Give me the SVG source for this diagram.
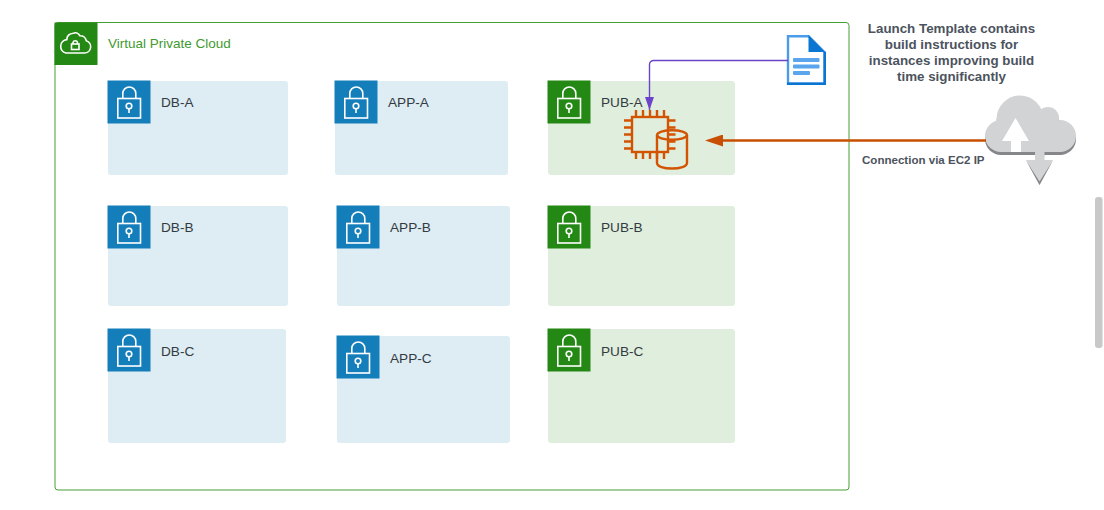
<svg xmlns="http://www.w3.org/2000/svg" xmlns:xlink="http://www.w3.org/1999/xlink" width="1104" height="510" viewBox="0 0 1104 510">
<style>
text{font-family:"Liberation Sans",Arial,sans-serif}
.lbl{font-size:13.600px;fill:#333b42}
.note{font-size:13.350px;font-weight:bold;fill:#4c535d;text-anchor:middle}
.priv{fill:#deecf4}
.pub{fill:#e0eedd}
.privb{fill:#147ebb}
.pubb{fill:#248814}
.lk{fill:none;stroke:#fff;stroke-width:1.6}
.chip{fill:none;stroke:#d35400;stroke-width:2.400}
.cl{fill:#d1d3d4}
.cs{fill:#85878a}
</style>
<defs>
<g id="lock">
<rect x="9.800" y="17.500" width="22.700" height="19.500" class="lk"/>
<path d="M14.800 17.500V12.500a6.500 6.500 0 0 1 13 0V17.500" class="lk"/>
<circle cx="21" cy="25" r="2.800" class="lk"/>
<path d="M21 27.800V32" class="lk"/>
</g>
<g id="cloud">
<circle cx="1020" cy="119" r="23.500"/>
<circle cx="1048" cy="118" r="11"/>
<circle cx="1060" cy="136" r="16"/>
<circle cx="1001" cy="136" r="16"/>
<rect x="1001" y="122" width="60" height="30"/>
</g>
<marker id="ap" markerUnits="userSpaceOnUse" markerWidth="13" markerHeight="10" refX="13" refY="5" orient="auto"><path d="M0 .5L13 5L0 9.500z" fill="#6b45c9"/></marker>
<marker id="ao" markerUnits="userSpaceOnUse" markerWidth="18" markerHeight="12" refX="0" refY="6" orient="auto"><path d="M0 0L18 6L0 12z" fill="#c94f00"/></marker>
</defs>
<g id="vpc">
<rect x="55" y="22.500" width="794" height="467.500" rx="3" fill="#fff" stroke="#46a035" stroke-width="1"/>
<rect x="54.500" y="22.500" width="43" height="42.500" fill="#248814"/>
<path d="M67 53h17.500a6.300 6.300 0 0 0 1.800-12.300a6.500 6.500 0 0 0-6.500-5c-1-2.200-3.500-3.700-6.500-2.400c-4 .4-6.300 2.400-6.500 6.300a6.800 6.800 0 0 0-.8 13.400z" class="lk"/>
<rect x="71.500" y="44" width="7.500" height="5.500" class="lk"/>
<path d="M73 44v-1.500a2.300 2.300 0 0 1 4.500 0V44" class="lk"/>
<text x="108" y="48" style="font-size:13.500px;fill:#3f9a2f">Virtual Private Cloud</text>
</g>
<g id="db-a"><rect class="priv" x="108" y="81" width="180" height="94" rx="3"/><rect class="privb" x="107.500" y="80.500" width="43" height="43"/><use xlink:href="#lock" href="#lock" x="108" y="81"/><text class="lbl" x="161" y="107">DB-A</text></g>
<g id="app-a"><rect class="priv" x="335" y="81" width="173" height="94" rx="3"/><rect class="privb" x="334.500" y="80.500" width="43" height="43"/><use xlink:href="#lock" href="#lock" x="335" y="81"/><text class="lbl" x="388" y="107">APP-A</text></g>
<g id="pub-a"><rect class="pub" x="548" y="81" width="187" height="94" rx="3"/><rect class="pubb" x="547.500" y="80.500" width="43" height="43"/><use xlink:href="#lock" href="#lock" x="548" y="81"/><text class="lbl" x="601" y="107">PUB-A</text></g>
<g id="db-b"><rect class="priv" x="108" y="206" width="180" height="100" rx="3"/><rect class="privb" x="107.500" y="205.500" width="43" height="43"/><use xlink:href="#lock" href="#lock" x="108" y="206"/><text class="lbl" x="161" y="232">DB-B</text></g>
<g id="app-b"><rect class="priv" x="337" y="206" width="173" height="100" rx="3"/><rect class="privb" x="336.500" y="205.500" width="43" height="43"/><use xlink:href="#lock" href="#lock" x="337" y="206"/><text class="lbl" x="390" y="232">APP-B</text></g>
<g id="pub-b"><rect class="pub" x="548" y="206" width="187" height="100" rx="3"/><rect class="pubb" x="547.500" y="205.500" width="43" height="43"/><use xlink:href="#lock" href="#lock" x="548" y="206"/><text class="lbl" x="601" y="232">PUB-B</text></g>
<g id="db-c"><rect class="priv" x="108" y="329" width="178" height="114" rx="3"/><rect class="privb" x="107.500" y="328.500" width="43" height="43"/><use xlink:href="#lock" href="#lock" x="108" y="329"/><text class="lbl" x="161" y="356">DB-C</text></g>
<g id="app-c"><rect class="priv" x="337" y="336" width="173" height="107" rx="3"/><rect class="privb" x="336.500" y="335.500" width="43" height="43"/><use xlink:href="#lock" href="#lock" x="337" y="336"/><text class="lbl" x="390" y="363">APP-C</text></g>
<g id="pub-c"><rect class="pub" x="548" y="329" width="187" height="114" rx="3"/><rect class="pubb" x="547.500" y="328.500" width="43" height="43"/><use xlink:href="#lock" href="#lock" x="548" y="329"/><text class="lbl" x="601" y="356">PUB-C</text></g>
<g id="ec2-instance">
<rect x="632" y="117" width="36" height="35" class="chip"/>
<path d="M636 117v-7M643 117v-7M650 117v-7M657 117v-7M664 117v-7M636 152v7M643 152v7M650 152v7M657 152v7M664 152v7M632 120.500h-8M632 127.500h-8M632 134.500h-8M632 141.500h-8M632 148.500h-8M668 120.500h7.500M668 127.500h7.500M668 134.500h7.500M668 141.500h7.500M668 148.500h7.500" class="chip"/>
<path d="M657 135v28c0 3.500 7 5.500 15 5.500s15-2 15-5.500v-28" class="chip"/>
<ellipse cx="672" cy="135" rx="15" ry="4.800" class="chip"/>
</g>
<g id="launch-template">
<path d="M788 36.200h20.500l16 16v31.600h-36.500z" fill="#fff" stroke="#4a9be8" stroke-width="2.400"/>
<path d="M787 83.800h37.800v-32" fill="none" stroke="#0b76d2" stroke-width="2.400"/>
<path d="M808.500 35l16.500 17h-16.500z" fill="#0b76d2"/>
<rect x="793" y="58" width="26.500" height="4" rx="1" fill="#5aa5ee"/>
<rect x="793" y="64.500" width="26.500" height="4" rx="1" fill="#5aa5ee"/>
<rect x="793" y="71" width="17" height="4" rx="1" fill="#5aa5ee"/>
</g>
<g id="internet-gateway">
<path d="M1035 152h9.500v8h8.500l-13.500 25l-13.500-25h9z" class="cl"/>
<path d="M1026 160.500l13.500 24.500l13.500-24.500l-13.500 21z" fill="#85878a"/>
<use xlink:href="#cloud" href="#cloud" y="3" class="cs"/>
<use xlink:href="#cloud" href="#cloud" class="cl"/>
<path d="M1035 152h9.500v5h-9.500z" class="cl"/>
<path d="M1015.500 118l13.500 23h-8v11h-10v-11h-9z" fill="#fff"/>
</g>
<g id="connectors">
<path d="M788 60.500H654a4 4 0 0 0-4.500 4V110" fill="none" stroke="#6b45c9" stroke-width="1.400" marker-end="url(#ap)"/>
<path d="M986 140.500H723" fill="none" stroke="#c94f00" stroke-width="2.600" marker-end="url(#ao)"/>
</g>
<g id="labels">
<text class="note" x="951.500" y="33">Launch Template contains</text>
<text class="note" x="951.500" y="49">build instructions for</text>
<text class="note" x="951.500" y="65">instances improving build</text>
<text class="note" x="951.500" y="81">time significantly</text>
<text x="862" y="164" style="font-size:11.550px;font-weight:bold;fill:#4c535d">Connection via EC2 IP</text>
</g>
<rect id="scrollbar" x="1095" y="197" width="7.500" height="151" rx="3" fill="#c8c8c8"/>
</svg>
